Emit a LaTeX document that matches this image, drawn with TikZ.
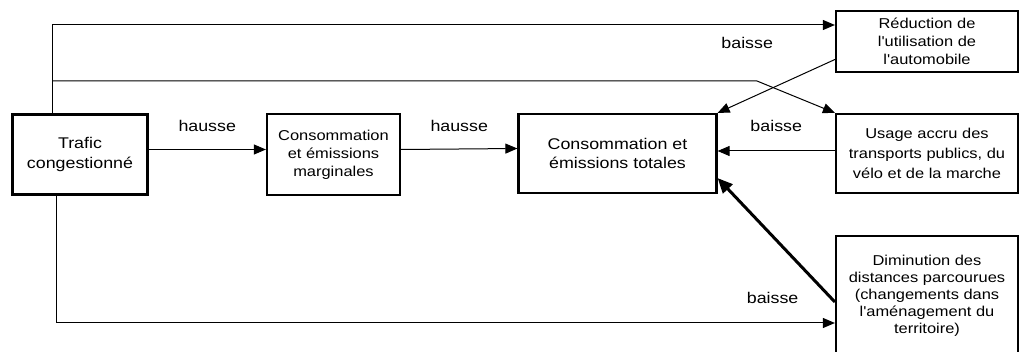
\documentclass[tikz,border=0pt]{standalone}
\usepackage{fontspec}
\setmainfont{Liberation Sans}[FakeStretch=1.15, Ligatures=TeXOff]
\usetikzlibrary{arrows.meta}

\begin{document}
\begin{tikzpicture}[x=1pt, y=1pt, font=\fontsize{15.5}{19.5}\selectfont,
    main/.style = {draw, line width=2.2pt, align=center, inner sep=2pt},
    small/.style = {main, font=\fontsize{14.3}{18}\selectfont},
    arrow/.style = {line width=1pt, -{Triangle[length=12pt, width=10pt]}},
    bigarrow/.style = {line width=3pt, -{Triangle[length=15pt, width=13pt]}}]
            \useasboundingbox (0,0) rectangle (1026,-352);
            \node[main, minimum width=135pt, minimum height=80pt] (1) at (80,-154.5) {Trafic\\congestionné};
            \node[small, minimum width=133pt, minimum height=81pt] (2) at (333.5,-154.5) {Consommation\\et émissions\\marginales};
            \node[main, minimum width=198pt, minimum height=79pt] (3) at (617.5,-153.5) {Consommation et\\émissions totales};
            \node[small, minimum width=182pt, minimum height=61pt] (4) at (927,-41.5) {Réduction de\\l'utilisation de\\l'automobile};
            \node[small, minimum width=182pt, minimum height=79pt, font=\fontsize{14.3}{20}\selectfont] (5) at (927,-153.5) {Usage accru des\\transports publics, du\\vélo et de la marche};
            \node[small, minimum width=182pt, minimum height=120pt, font=\fontsize{14.3}{17}\selectfont] (6) at (927,-296) {Diminution des\\distances parcourues\\(changements dans\\l'aménagement du\\territoire)};
            \coordinate (j) at (52,-81);
            \coordinate (k) at (757,-81);
            \draw[arrow] ([yshift=5pt]1.east) -- node[above=14pt]{hausse} ([yshift=5pt]2.west);
            \draw[arrow] ([yshift=5pt]2.east) -- node[above=14pt]{hausse} ([yshift=5pt]3.west);
            \draw[arrow] ([xshift=-28pt]1.north) |- node[pos=0.944, below=8.5pt]{baisse} ([yshift=16.5pt]4.west);
            \draw[arrow] (j) -- (k) -- (5.north west);
            \draw[arrow] ([yshift=-18pt]4.west) -- (3.north east);
            \draw[arrow] ([yshift=2.5pt]5.west) -- node[above=16pt]{baisse} ([yshift=2.5pt]3.east);
            \draw[bigarrow] ([yshift=-6pt]6.west) -- ([yshift=16pt]3.south east);
            \draw[arrow] ([xshift=-24pt]1.south) |- node[pos=0.96, above=16pt]{baisse} ([yshift=-27pt]6.west);
\end{tikzpicture}
\end{document}
